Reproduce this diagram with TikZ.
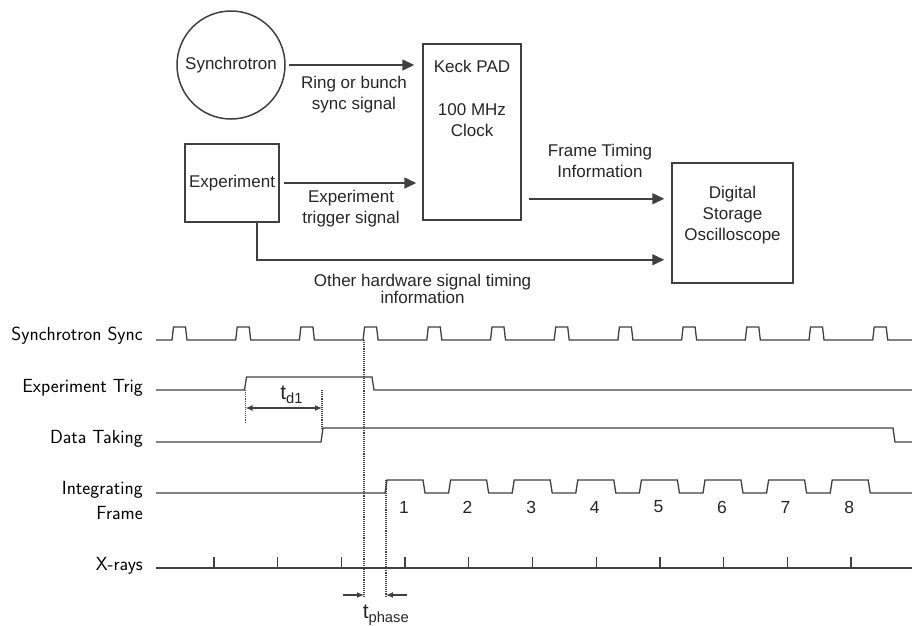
\documentclass[tikz,border=0pt]{standalone}
\usepackage{fontspec}
\newfontfamily\arialfont{Liberation Sans}
\usetikzlibrary{arrows.meta,positioning,calc}
\definecolor{linegray}{HTML}{404040}
\definecolor{textgray}{HTML}{262626}
\tikzset{
  unitbox/.style={draw=linegray,line width=1.5pt,inner sep=0pt,font=\arialfont\fontsize{17}{21}\selectfont,text=textgray,align=center},
  sigarrow/.style={-{Triangle[length=12pt,width=11pt]},line width=1.6pt,draw=linegray},
  siglabel/.style={font=\arialfont\fontsize{17}{21}\selectfont,text=textgray,align=center,inner sep=2pt},
  tracelabel/.style={font=\sffamily\fontsize{19}{25}\selectfont,text=black,align=right,inner sep=0pt},
  framenum/.style={font=\arialfont\fontsize{17.5}{17.5}\selectfont,text=textgray,inner sep=0pt},
  delaylabel/.style={font=\arialfont\fontsize{21}{21}\selectfont,text=textgray,inner sep=0pt},
  trace/.style={draw=linegray,line width=1.3pt},
  dotline/.style={draw=linegray,line width=1.1pt,densely dotted},
  spanarrow/.style={{Latex[length=7pt,width=6pt]}-{Latex[length=7pt,width=6pt]},draw=linegray,line width=1.2pt},
  tiparrow/.style={-{Latex[length=7pt,width=6pt]},draw=linegray,line width=1.2pt}
}

\begin{document}
\begin{tikzpicture}[x=1pt,y=-1pt]
\useasboundingbox (0,0) rectangle (912,625);
% block diagram
\node[unitbox,circle,minimum size=108pt] (sync) at (231,65) {Synchrotron};
\node[unitbox,minimum width=94pt,minimum height=78pt] (expt) at (232,183) {Experiment};
\node[unitbox,minimum width=98pt,minimum height=176pt] (keck) at (472,132) {};
\node[siglabel,inner sep=0pt,below=16.5pt of keck.north] (keckname) {Keck PAD\\[22pt]100 MHz\\Clock};
\node[unitbox,minimum width=121pt,minimum height=120pt] (dso) at (732.5,223) {};
\node[siglabel,inner sep=0pt,below=23.5pt of dso.north] (dsoname) {Digital\\Storage\\Oscilloscope};
\draw[sigarrow,shorten <=3pt,shorten >=8pt] (sync.east) -- (sync.east -| keck.west)
  node[siglabel,midway,below=8pt] {Ring or bunch\\sync signal};
\draw[sigarrow,shorten <=4pt,shorten >=6pt] (expt.east) -- (expt.east -| keck.west)
  node[siglabel,midway,below=4.5pt] {Experiment\\trigger signal};
\coordinate (ftout) at ([shift={(7,-22)}]keck.south east);
\draw[sigarrow,shorten >=7pt] (ftout) -- (ftout -| dso.west)
  node[siglabel,midway,above=18pt] {Frame Timing\\Information};
\coordinate (hwout) at ([shift={(-23,0)}]expt.south east);
\coordinate (hwin) at ([shift={(0,-24)}]dso.south west);
\draw[sigarrow,shorten >=7pt] (hwout) |- (hwin)
  node[siglabel,pos=0.7,below=11.5pt,font=\arialfont\fontsize{17}{17}\selectfont] {Other hardware signal timing\\information};

% timing traces
\node[tracelabel,anchor=base east] (lsync) at (143,340) {Synchrotron Sync};
\node[tracelabel,anchor=base east] (ltrig) at (143,392) {Experiment Trig};
\node[tracelabel,anchor=base east] (ldata) at (143,443) {Data Taking};
\node[tracelabel,anchor=north east] (lframe) at (143,481) {Integrating\\Frame};
\node[tracelabel,anchor=base east] (lxray) at (143,570) {X-rays};
\draw[trace] (156,340) foreach \k in {0,...,11}{ -- ({172+63.7*\k},340) -- ++(1.5,-13) -- ++(12,0) -- ++(1.5,13)} -- (912,340);
\draw[trace] (156,390) -- (244.5,390) -- (246.5,377) -- (372,377) -- (374,390) -- (912,390);
\draw[trace] (156,442) -- (321,442) -- (323,428) -- (893,428) -- (895,442) -- (912,442);
\draw[trace] (156,493) foreach \k in {0,...,7}{ -- ({385+63.6*\k},493) -- ++(2,-13) -- ++(36,0) -- ++(2,13)} -- (912,493);
\foreach \k in {1,...,8}
  \node[framenum] (f\k) at ({404+63.6*(\k-1)},507) {\k};
\draw[trace] (156,568) -- (912,568);
\foreach \k in {0,...,10}
  \draw[trace] ({214+63.7*\k},568) -- ++(0,-11);

% delays
\draw[dotline] (245.5,390) -- (245.5,422);
\draw[dotline] (322,390) -- (322,428);
\coordinate (td1a) at (245.5,408);
\coordinate (td1b) at (322,408);
\draw[spanarrow] (td1a) -- (td1b)
  node[delaylabel,midway,above=4pt,xshift=8pt] {t\textsubscript{d1}};
\draw[dotline] (364,340) -- (364,597);
\draw[dotline] (386,480) -- (386,597);
\coordinate (phl) at (364,595);
\coordinate (phr) at (386,595);
\coordinate (phlout) at (343,595);
\coordinate (phrout) at (407,595);
\draw[tiparrow] (phlout) -- (phl);
\draw[tiparrow] (phrout) -- (phr);
\node[delaylabel,anchor=north] (tphase) at (386,605) {t\textsubscript{phase}};
\end{tikzpicture}
\end{document}
